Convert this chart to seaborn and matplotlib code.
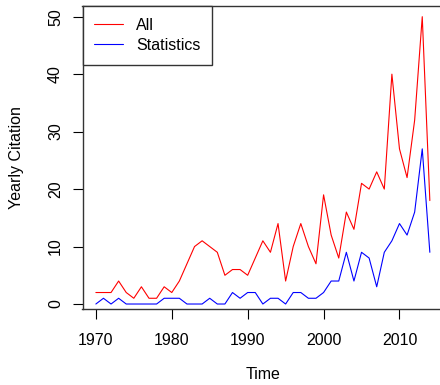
import matplotlib
matplotlib.use("Agg")
import matplotlib.pyplot as plt
import seaborn as sns
import pandas as pd

years = list(range(1970, 2015))
all_cites = [2, 2, 2, 4, 2, 1, 3, 1, 1, 3,
             2, 4, 7, 10, 11, 10, 9, 5, 6, 6,
             5, 8, 11, 9, 14, 4, 10, 14, 10, 7,
             19, 12, 8, 16, 13, 21, 20, 23, 20, 40,
             27, 22, 32, 50, 18]
stat_cites = [0, 1, 0, 1, 0, 0, 0, 0, 0, 1,
              1, 1, 0, 0, 0, 1, 0, 0, 2, 1,
              2, 2, 0, 1, 1, 0, 2, 2, 1, 1,
              2, 4, 4, 9, 4, 9, 8, 3, 9, 11,
              14, 12, 16, 27, 9]
series_names = ["All", "Statistics"]
x_ticks = [1970, 1980, 1990, 2000, 2010]
y_ticks = [0, 10, 20, 30, 40, 50]

df = pd.DataFrame({
    "Time": years * 2,
    "Yearly Citation": all_cites + stat_cites,
    "Series": [series_names[0]] * len(years) + [series_names[1]] * len(years),
})

sns.set_theme(style="white")
plt.rcParams["font.family"] = ["Liberation Sans", "DejaVu Sans"]
plt.rcParams["text.color"] = "black"
plt.rcParams["axes.labelcolor"] = "black"
plt.rcParams["xtick.color"] = "black"
plt.rcParams["ytick.color"] = "black"

fig = plt.figure(figsize=(4.4, 3.85), dpi=100)
ax = fig.add_axes([82.5 / 440, 75.7 / 385, (443.2 - 82.5) / 440, (309.3 - 6) / 385])

sns.lineplot(data=df, x="Time", y="Yearly Citation", hue="Series",
             palette={"All": "red", "Statistics": "blue"},
             linewidth=0.8, ax=ax, legend=False)

ax.set_xlim(1968.24, 2015.76)
ax.set_ylim(-0.92, 51.86)
ax.set_xticks(x_ticks)
ax.set_yticks(y_ticks)
ax.set_xticklabels([str(t) for t in x_ticks], fontsize=11.5)
ax.set_yticklabels([str(t) for t in y_ticks], fontsize=11.5, rotation=90, va="center")
ax.tick_params(axis="both", direction="out", length=7, width=0.8, color="black",
               labelcolor="black", bottom=True, left=True)
ax.tick_params(axis="x", pad=10)
ax.tick_params(axis="y", pad=7)
ax.set_xlabel("Time", fontsize=11.5, labelpad=14, color="black")
ax.set_ylabel("Yearly Citation", fontsize=11.5, labelpad=17, color="black")
for s in ax.spines.values():
    s.set_visible(True)
    s.set_color("#333333")
    s.set_linewidth(1.0)

from matplotlib.lines import Line2D
handles = [Line2D([], [], color="red", lw=0.8), Line2D([], [], color="blue", lw=0.8)]
leg = ax.legend(handles, series_names, loc="upper left", bbox_to_anchor=(0, 1),
                borderaxespad=0, frameon=True, fancybox=False, edgecolor="#333333",
                fontsize=11.5, handlelength=1.8, handletextpad=0.8,
                labelspacing=0.3, borderpad=0.75)
leg.get_frame().set_linewidth(1.0)
leg.get_frame().set_alpha(None)
leg.get_frame().set_facecolor("white")
for t in leg.get_texts():
    t.set_color("black")

fig.savefig("out.png", dpi=100)
